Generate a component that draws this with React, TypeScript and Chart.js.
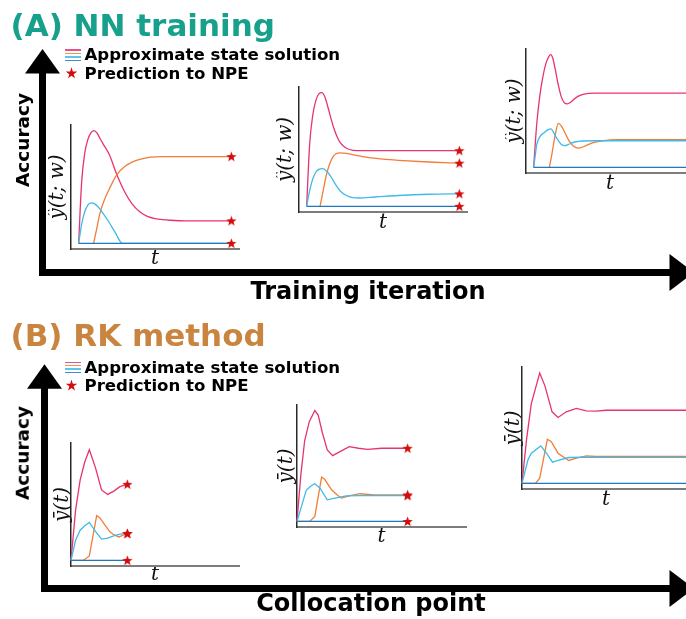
import React, { useEffect, useRef } from 'react';
import { Chart, registerables } from 'chart.js';

Chart.register(...registerables);

const PINK = '#e8336f';
const ORANGE = '#f07d3a';
const SKY = '#3fbbe8';
const BLUE = '#1f77c0';
const STAR_RED = '#d40c0c';
const TEAL = '#17a08b';
const BROWN = '#c98540';

// ---------- Panel A : NN training (three snapshots) ----------
const A1_PINK_T = [0, 2, 4, 6, 8, 10, 12, 14, 17, 20, 25, 30, 35, 40, 45, 50, 55, 60, 70, 80, 100];
const A1_PINK = [0, 55, 80, 92, 98, 100, 98, 93, 86, 79, 61, 46, 35, 28, 24, 22, 21, 20.5, 20, 20, 20];
const A1_ORANGE_T = [9.8, 12, 14, 17, 20, 25, 30, 35, 40, 47, 55, 70, 100];
const A1_ORANGE = [0, 14, 27, 39, 48, 61, 68, 72, 74.5, 76.5, 77, 77, 77];
const A1_SKY_T = [0, 2, 4, 6, 8, 10, 13, 16, 20, 24, 28.6, 100];
const A1_SKY = [0, 17, 28, 34, 36, 35.5, 32, 26.5, 18.5, 9.5, 0, 0];
const A1_BLUE_T = [0, 100];
const A1_BLUE = [0, 0];
const A1_STAR_T = [100, 100, 100];
const A1_STAR = [77, 20, 0];

const A2_PINK_T = [0, 2, 4, 6, 8, 10, 12, 14, 16, 18, 20, 22, 25, 28, 33, 50, 100];
const A2_PINK = [0, 55, 80, 93, 99, 100, 96, 87, 77, 68, 61, 56, 52, 50, 49, 49, 49];
const A2_ORANGE_T = [8.8, 11, 13, 15, 17, 19, 22, 26, 30, 40, 50, 60, 80, 100];
const A2_ORANGE = [0, 15, 28, 37, 43, 46, 47, 46.5, 45.5, 43, 41.5, 40.5, 39, 38];
const A2_SKY_T = [0, 2, 4, 6, 8, 10.5, 13, 16, 19, 22, 26, 30, 34, 45, 60, 80, 100];
const A2_SKY = [0, 14, 24, 30, 32.5, 33.2, 31, 26, 19, 13.5, 9.5, 7.7, 7.3, 8.2, 9.5, 10.6, 11];
const A2_BLUE_T = [0, 100];
const A2_BLUE = [0, 0];
const A2_STAR_T = [100, 100, 100, 100];
const A2_STAR = [49, 38, 11, 0];

const A3_PINK_T = [0, 2, 4, 6, 8, 10, 11.2, 12.5, 14, 16, 18, 20, 22, 24, 26, 29, 33, 40, 100];
const A3_PINK = [0, 38, 63, 80, 92, 98.5, 100, 97, 88, 74, 63, 57.5, 56.3, 57.5, 60, 63, 65, 65.8, 65.8];
const A3_ORANGE_T = [10.3, 12, 14, 16.2, 18, 20, 23, 26, 29.3, 33, 38, 45, 55, 100];
const A3_ORANGE = [0, 12, 28, 39, 37, 32, 24, 19, 17, 18.5, 21.5, 23.5, 24.5, 24.5];
const A3_SKY_T = [0, 1, 2, 4, 7, 9.5, 11.4, 13, 15.5, 18, 20.5, 23, 27, 32, 40, 100];
const A3_SKY = [0, 10, 20, 27, 31, 33.5, 34.2, 31, 25, 20.5, 19.2, 20.5, 22.5, 23.4, 23.6, 23.6];
const A3_BLUE_T = [0, 100];
const A3_BLUE = [0, 0];

// ---------- Panel B : RK method (three collocation counts) ----------
const B1_PINK_T = [0, 3, 6, 9, 12, 16, 20, 24, 28, 32, 36.9];
const B1_PINK = [0, 45, 72, 88, 99, 83, 63, 59, 62, 66, 68];
const B1_ORANGE_T = [0, 4, 8, 12, 16.8, 19, 22, 25.5, 28, 31.4, 34, 36.9];
const B1_ORANGE = [0, 0, 0, 4, 40, 38, 32, 25.6, 23, 21, 22.5, 24];
const B1_SKY_T = [0, 3, 6, 9, 12, 16, 20, 24, 28, 32, 36.9];
const B1_SKY = [0, 18, 27, 31, 34, 26, 19, 20, 22, 23.6, 24];
const B1_BLUE_T = [0, 36.9];
const B1_BLUE = [0, 0];
const B1_STAR_T = [36.9, 36.9, 36.9, 36.9];
const B1_STAR = [68, 24, 24, 0];

const B2_PINK_T = [0, 2.5, 5, 8, 11.6, 13.8, 16.5, 19.7, 23.2, 28, 34, 40, 46, 55, 64, 72];
const B2_PINK = [0, 42, 73, 90, 100, 96, 80, 64.5, 59.4, 63, 67.5, 66, 65, 66, 66, 66];
const B2_ORANGE_T = [0, 4, 8.3, 11.6, 16, 18, 22.5, 26, 29, 34.6, 41, 50, 60, 72];
const B2_ORANGE = [0, 0, 0, 4.6, 40, 38, 28.5, 24, 21, 23.2, 25, 24, 24, 24];
const B2_SKY_T = [0, 3, 6, 9, 11.6, 15, 19.7, 24.7, 32, 41, 72];
const B2_SKY = [0, 14, 28, 32, 34, 30, 19.5, 21, 23, 23.2, 23.2];
const B2_BLUE_T = [0, 72];
const B2_BLUE = [0, 0];
const B2_STAR_T = [72, 72, 72, 72];
const B2_STAR = [66, 24, 23.2, 0];

const B3_PINK_T = [0, 3, 6.1, 11.6, 15, 19.7, 23.6, 29, 35.6, 42, 48.7, 55, 62, 70, 80, 90, 100, 110];
const B3_PINK = [0, 40, 72, 99.6, 88, 64.6, 59.5, 64.6, 67.6, 65.5, 65.2, 66, 66, 66, 66, 66, 66, 66];
const B3_ORANGE_T = [0, 4, 8.8, 11.6, 16.6, 19.2, 23.6, 30.6, 35.6, 42.2, 48.7, 60, 80, 110];
const B3_ORANGE = [0, 0, 0, 4.8, 39.8, 37.7, 27.3, 20.7, 22.8, 24.9, 24.3, 24.3, 24.3, 24.3];
const B3_SKY_T = [0, 3.9, 6.1, 12.3, 16, 20, 23.6, 30.6, 42.2, 60, 80, 110];
const B3_SKY = [0, 21.3, 27.3, 33.8, 27.3, 19.2, 20.7, 23.4, 23.7, 23.6, 23.6, 23.6];
const B3_BLUE_T = [0, 110];
const B3_BLUE = [0, 0];

const Y_LABEL_NN = 'ŷ(t; w)';
const Y_LABEL_RK = 'ȳ(t)';
const X_LABEL = 't';

type Series = { t: number[]; y: number[]; color: string };
type InsetSpec = {
  l: number; t: number; r: number; b: number; xg: number; yg: number;
  xMin: number; xMax: number; yLabel: string; smooth: boolean;
  series: Series[]; starT?: number[]; starY?: number[];
};

const INSETS: InsetSpec[] = [
  { l: 71, t: 125, r: 239, b: 249, xg: 10, yg: 13, xMin: -5, xMax: 105, yLabel: Y_LABEL_NN, smooth: true,
    series: [
      { t: A1_BLUE_T, y: A1_BLUE, color: BLUE },
      { t: A1_SKY_T, y: A1_SKY, color: SKY },
      { t: A1_ORANGE_T, y: A1_ORANGE, color: ORANGE },
      { t: A1_PINK_T, y: A1_PINK, color: PINK },
    ], starT: A1_STAR_T, starY: A1_STAR },
  { l: 299, t: 87, r: 467, b: 212, xg: 11, yg: 13, xMin: -5, xMax: 105, yLabel: Y_LABEL_NN, smooth: true,
    series: [
      { t: A2_BLUE_T, y: A2_BLUE, color: BLUE },
      { t: A2_SKY_T, y: A2_SKY, color: SKY },
      { t: A2_ORANGE_T, y: A2_ORANGE, color: ORANGE },
      { t: A2_PINK_T, y: A2_PINK, color: PINK },
    ], starT: A2_STAR_T, starY: A2_STAR },
  { l: 526, t: 49, r: 694, b: 173, xg: 11, yg: 11, xMin: -5, xMax: 105, yLabel: Y_LABEL_NN, smooth: true,
    series: [
      { t: A3_BLUE_T, y: A3_BLUE, color: BLUE },
      { t: A3_SKY_T, y: A3_SKY, color: SKY },
      { t: A3_ORANGE_T, y: A3_ORANGE, color: ORANGE },
      { t: A3_PINK_T, y: A3_PINK, color: PINK },
    ] },
  { l: 71, t: 443, r: 239, b: 566, xg: 9, yg: 8, xMin: 0, xMax: 110, yLabel: Y_LABEL_RK, smooth: false,
    series: [
      { t: B1_BLUE_T, y: B1_BLUE, color: BLUE },
      { t: B1_SKY_T, y: B1_SKY, color: SKY },
      { t: B1_ORANGE_T, y: B1_ORANGE, color: ORANGE },
      { t: B1_PINK_T, y: B1_PINK, color: PINK },
    ], starT: B1_STAR_T, starY: B1_STAR },
  { l: 297, t: 405, r: 466, b: 527, xg: 10, yg: 10, xMin: 0, xMax: 110, yLabel: Y_LABEL_RK, smooth: false,
    series: [
      { t: B2_BLUE_T, y: B2_BLUE, color: BLUE },
      { t: B2_SKY_T, y: B2_SKY, color: SKY },
      { t: B2_ORANGE_T, y: B2_ORANGE, color: ORANGE },
      { t: B2_PINK_T, y: B2_PINK, color: PINK },
    ], starT: B2_STAR_T, starY: B2_STAR },
  { l: 522, t: 367, r: 690, b: 489, xg: 11, yg: 8, xMin: 0, xMax: 110, yLabel: Y_LABEL_RK, smooth: false,
    series: [
      { t: B3_BLUE_T, y: B3_BLUE, color: BLUE },
      { t: B3_SKY_T, y: B3_SKY, color: SKY },
      { t: B3_ORANGE_T, y: B3_ORANGE, color: ORANGE },
      { t: B3_PINK_T, y: B3_PINK, color: PINK },
    ] },
];

function pts(ts: number[], ys: number[]) {
  return ts.map((x, i) => ({ x, y: ys[i] }));
}

let starCache: HTMLCanvasElement | null = null;
function starImage(): HTMLCanvasElement {
  if (starCache) return starCache;
  const c = document.createElement('canvas');
  c.width = 11;
  c.height = 11;
  const g = c.getContext('2d')!;
  g.fillStyle = STAR_RED;
  g.beginPath();
  for (let i = 0; i < 10; i++) {
    const r = i % 2 === 0 ? 5.4 : 2.3;
    const a = -Math.PI / 2 + (i * Math.PI) / 5;
    const x = 5.5 + r * Math.cos(a);
    const y = 5.8 + r * Math.sin(a);
    if (i === 0) g.moveTo(x, y); else g.lineTo(x, y);
  }
  g.closePath();
  g.fill();
  starCache = c;
  return c;
}

const MATH_FONT = { family: '"DejaVu Serif", serif', style: 'italic' as const, size: 20, lineHeight: 0.6 };

function Inset({ spec }: { spec: InsetSpec }) {
  const ref = useRef<HTMLCanvasElement>(null);
  const yPt = 4;
  const yPb = spec.yg - 6;
  const xPt = spec.xg - 6;
  const padTop = 6, padRight = 6, padBottom = 2;
  const x0 = spec.l - (yPt + 12 + yPb);
  const y0 = spec.t - padTop;
  const w = spec.r + padRight - x0;
  const h = spec.b + 12 + xPt + padBottom - y0;

  useEffect(() => {
    const datasets: any[] = [];
    if (spec.starT && spec.starY) {
      datasets.push({
        data: pts(spec.starT, spec.starY),
        showLine: false,
        pointStyle: starImage(),
        pointRadius: 5,
        clip: false,
      });
    }
    spec.series.forEach((s) => {
      datasets.push({
        data: pts(s.t, s.y),
        borderColor: s.color,
        borderWidth: 1.3,
        pointRadius: 0,
        fill: false,
        tension: spec.smooth ? 0.4 : 0,
        cubicInterpolationMode: spec.smooth ? 'monotone' : 'default',
        clip: 4,
      });
    });
    const chart = new Chart(ref.current!, {
      type: 'line',
      data: { datasets },
      options: {
        animation: false,
        responsive: false,
        events: [],
        layout: { padding: { left: 0, top: padTop, right: padRight, bottom: padBottom } },
        plugins: { legend: { display: false }, tooltip: { enabled: false } },
        scales: {
          x: {
            type: 'linear', min: spec.xMin, max: spec.xMax, display: true,
            ticks: { display: false }, grid: { display: false, drawTicks: false },
            border: { display: true, color: '#7d7d7d', width: 2 },
            title: { display: true, text: X_LABEL, color: '#111', font: MATH_FONT, padding: { top: xPt, bottom: 0 } },
          },
          y: {
            type: 'linear', min: -5, max: 105, display: true,
            ticks: { display: false }, grid: { display: false, drawTicks: false },
            border: { display: true, color: '#2a2a2a', width: 1.5 },
            title: { display: true, text: spec.yLabel, color: '#111', font: MATH_FONT, padding: { top: yPt, bottom: yPb } },
          },
        },
      } as any,
    });
    return () => chart.destroy();
  }, []);

  return (
    <canvas ref={ref} width={w} height={h}
      style={{ position: 'absolute', left: x0, top: y0, width: w, height: h }} />
  );
}

const arrowHeads = {
  id: 'arrowHeads',
  afterDraw(chart: any) {
    const { ctx, chartArea: a } = chart;
    ctx.save();
    ctx.fillStyle = '#000';
    ctx.beginPath();
    ctx.moveTo(a.left, a.top - 24);
    ctx.lineTo(a.left - 17.5, a.top + 0.5);
    ctx.lineTo(a.left + 17.5, a.top + 0.5);
    ctx.closePath();
    ctx.fill();
    ctx.beginPath();
    ctx.moveTo(a.right + 24, a.bottom);
    ctx.lineTo(a.right - 0.5, a.bottom - 18.5);
    ctx.lineTo(a.right - 0.5, a.bottom + 18.5);
    ctx.closePath();
    ctx.fill();
    ctx.restore();
  },
};

function Frame({ top, height, pad }: { top: number; height: number; pad: { left: number; top: number; right: number; bottom: number } }) {
  const ref = useRef<HTMLCanvasElement>(null);
  useEffect(() => {
    const axis = {
      type: 'linear', min: 0, max: 1, display: true,
      ticks: { display: false }, grid: { display: false, drawTicks: false },
      border: { display: true, color: '#000', width: 7 },
    };
    const chart = new Chart(ref.current!, {
      type: 'scatter',
      data: { datasets: [] },
      options: {
        animation: false,
        responsive: false,
        events: [],
        layout: { padding: pad },
        plugins: { legend: { display: false }, tooltip: { enabled: false } },
        scales: { x: axis, y: axis },
      } as any,
      plugins: [arrowHeads],
    });
    return () => chart.destroy();
  }, []);
  return (
    <canvas ref={ref} width={686} height={height}
      style={{ position: 'absolute', left: 0, top, width: 686, height }} />
  );
}

const SANS = '"DejaVu Sans", Verdana, sans-serif';

function Txt({ x, y, size, color = '#000', children, center = false }: any) {
  return (
    <div style={{
      position: 'absolute', left: x, top: y, font: `bold ${size}px ${SANS}`, lineHeight: 1,
      color, whiteSpace: 'nowrap', transform: center ? 'translateX(-50%)' : undefined,
    }}>{children}</div>
  );
}

function VTxt({ x, y, size, children }: any) {
  return (
    <div style={{
      position: 'absolute', left: x, top: y, font: `bold ${size}px ${SANS}`, lineHeight: 1,
      whiteSpace: 'nowrap', transform: 'translate(-50%, -50%) rotate(-90deg)',
    }}>{children}</div>
  );
}

function LegendBlock({ y }: { y: number }) {
  const lines = [PINK, ORANGE, SKY, BLUE];
  return (
    <>
      {lines.map((c, i) => (
        <div key={i} style={{ position: 'absolute', left: 65, top: y + i * 3.4, width: 16, height: 1.6, background: c, opacity: 0.85 }} />
      ))}
      <div style={{
        position: 'absolute', left: 65.5, top: y + 18, width: 12, height: 12, background: STAR_RED,
        clipPath: 'polygon(50% 0%, 61% 35%, 98% 35%, 68% 57%, 79% 91%, 50% 70%, 21% 91%, 32% 57%, 2% 35%, 39% 35%)',
      }} />
      <Txt x={84.5} y={y - 2} size={16.6}>Approximate state solution</Txt>
      <Txt x={84.5} y={y + 16.3} size={16.6}>Prediction to NPE</Txt>
    </>
  );
}

export default function App() {
  return (
    <div style={{ position: 'fixed', left: 0, top: 0, width: 686, height: 619, overflow: 'hidden', background: '#fff' }}>
      <Frame top={0} height={310} pad={{ left: 42.5, top: 73, right: 16, bottom: 37.5 }} />
      <Frame top={310} height={309} pad={{ left: 44.5, top: 78.3, right: 16, bottom: 30.5 }} />
      {INSETS.map((s, i) => <Inset key={i} spec={s} />)}
      <Txt x={10.5} y={9.8} size={31} color={TEAL}>(A) NN training</Txt>
      <Txt x={10.5} y={319.8} size={31} color={BROWN}>(B) RK method</Txt>
      <LegendBlock y={49.3} />
      <LegendBlock y={361.5} />
      <VTxt x={23} y={140} size={18.5}>Accuracy</VTxt>
      <VTxt x={23} y={453} size={18.5}>Accuracy</VTxt>
      <Txt x={368} y={278.7} size={24} center>Training iteration</Txt>
      <Txt x={371} y={591.4} size={24} center>Collocation point</Txt>
    </div>
  );
}
